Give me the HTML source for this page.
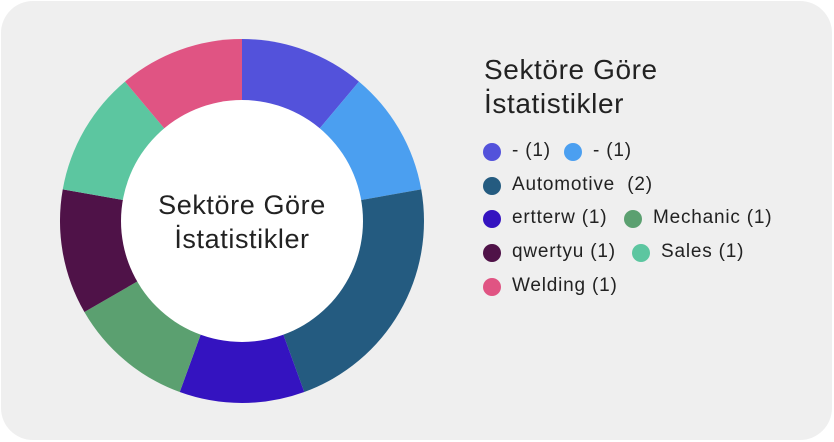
<!DOCTYPE html>
<html><head><meta charset="utf-8"><style>
html,body{margin:0;padding:0;background:#fff;}
body{width:834px;height:442px;position:relative;overflow:hidden;font-family:"Liberation Sans",sans-serif;}
#card{position:absolute;left:1px;top:1px;width:831px;height:439px;background:#efefef;border-radius:32px;}
.t{position:absolute;color:#222;white-space:nowrap;}
.dot{position:absolute;width:18px;height:18px;border-radius:50%;}
</style></head><body>
<div id="card"></div>
<svg id="chart" width="834" height="442" style="position:absolute;left:0;top:0"></svg>
<div class="t" style="left:484px;top:53px;font-size:28px;line-height:34px;letter-spacing:0.6px;">Sektöre Göre<br>İstatistikler</div>
<div id="legend"></div>
<script>
const categories=["-","-","Automotive","ertterw","Mechanic","qwertyu","Sales","Welding"];
const values=[1,1,2,1,1,1,1,1];
const colors=["#5352DB","#4B9FF0","#245B80","#3413C0","#5BA070","#4F1248","#5CC6A0","#E05483"];
const labels=["- (1)","- (1)","Automotive  (2)","ertterw (1)","Mechanic (1)","qwertyu (1)","Sales (1)","Welding (1)"];
const svg=document.getElementById('chart');
const NS="http://www.w3.org/2000/svg";
const cx=242,cy=221,R=182,r=121;
const total=values.reduce((a,b)=>a+b,0);
function pt(a,rad){return [cx+rad*Math.sin(a),cy-rad*Math.cos(a)];}
let acc=0;
values.forEach((v,i)=>{
  const a0=acc/total*2*Math.PI; acc+=v; const a1=acc/total*2*Math.PI;
  const p0=pt(a0,R),p1=pt(a1,R);
  const large=(a1-a0)>Math.PI?1:0;
  const p=document.createElementNS(NS,'path');
  p.setAttribute('d',`M${cx},${cy} L${p0[0]},${p0[1]} A${R},${R} 0 ${large} 1 ${p1[0]},${p1[1]} Z`);
  p.setAttribute('fill',colors[i]);
  
  
  svg.appendChild(p);
});
const c=document.createElementNS(NS,'circle');
c.setAttribute('cx',cx);c.setAttribute('cy',cy);c.setAttribute('r',r);c.setAttribute('fill','#fff');


svg.appendChild(c);
["Sektöre Göre","İstatistikler"].forEach((s,i)=>{
  const t=document.createElementNS(NS,'text');
  t.setAttribute('x',cx);t.setAttribute('y',214+i*34);t.setAttribute('text-anchor','middle');
  t.setAttribute('font-size','27');t.setAttribute('letter-spacing','0.6');t.setAttribute('fill','#222');t.setAttribute('font-family','Liberation Sans, sans-serif');
  t.textContent=s;
  
  
  svg.appendChild(t);
});
const layout=[[492,152],[573,152],[492,186],[492,219],[633,219],[492,253],[641,253],[492,287]];
const lg=document.getElementById('legend');
labels.forEach((l,i)=>{
  const [x,y]=layout[i];
  const d=document.createElement('div');d.className='dot';
  d.style.left=(x-9)+'px';d.style.top=(y-9)+'px';d.style.background=colors[i];
  
  
  lg.appendChild(d);
  const t=document.createElement('div');t.className='t';
  t.style.left=(x+20)+'px';t.style.top=(y-12)+'px';t.style.fontSize='19px';t.style.letterSpacing='0.8px';t.style.whiteSpace='pre';
  t.textContent=l;
  
  
  lg.appendChild(t);
});
</script>
</body></html>
